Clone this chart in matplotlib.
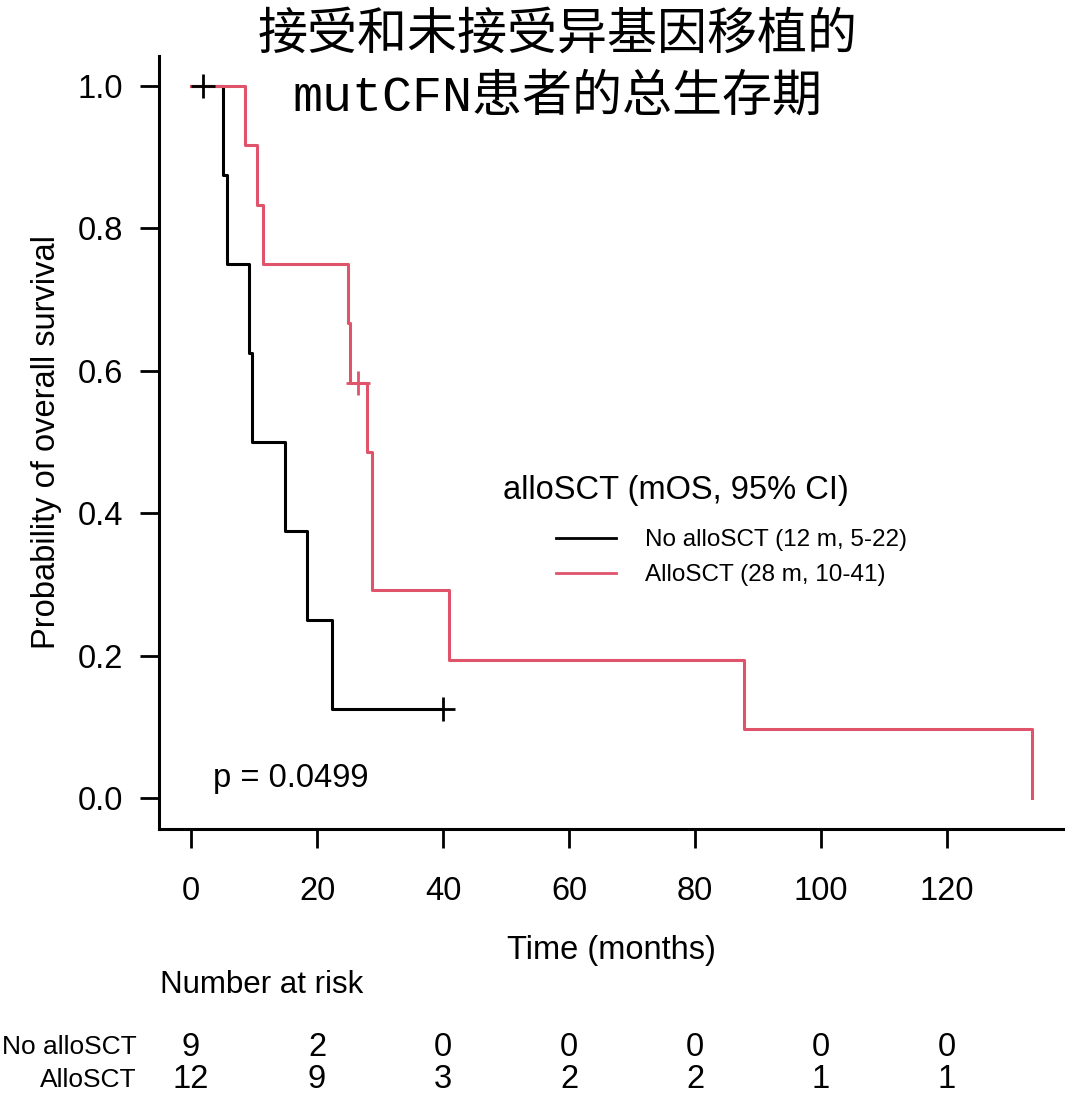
import matplotlib
matplotlib.use("Agg")
import matplotlib.pyplot as plt
from matplotlib.lines import Line2D
from matplotlib.transforms import blended_transform_factory

# ---- data ----
no_times = [0, 5.1, 5.7, 9.2, 9.7, 14.9, 18.4, 22.4, 40.0]
no_surv = [1.0, 0.875, 0.75, 0.625, 0.5, 0.375, 0.25, 0.125, 0.125]
no_cens_t = [1.9, 40.0]
no_cens_s = [1.0, 0.125]

al_times = [0, 8.6, 10.5, 11.4, 24.9, 25.3, 27.9, 28.7, 41.0, 87.8, 133.5]
al_surv = [1.0, 0.917, 0.833, 0.75, 0.667, 0.583, 0.486, 0.292, 0.194, 0.097, 0.0]
al_cens_t = [26.5]
al_cens_s = [0.583]

x_ticks = [0, 20, 40, 60, 80, 100, 120]
y_ticks = [0.0, 0.2, 0.4, 0.6, 0.8, 1.0]
risk_no = [9, 2, 0, 0, 0, 0, 0]
risk_al = [12, 9, 3, 2, 2, 1, 1]
group_labels = ["No alloSCT", "AlloSCT"]
legend_labels = ["No alloSCT (12 m, 5-22)", "AlloSCT (28 m, 10-41)"]
title_text = "接受和未接受异基因移植的\nmutCFN患者的总生存期"
p_text = "p = 0.0499"

BLACK = "#000000"
RED = "#DF536B"
W, H = 1080, 1100

plt.rcParams['font.family'] = ['Liberation Sans', 'DejaVu Sans']
fig = plt.figure(figsize=(W / 100, H / 100), dpi=100)
ax = fig.add_axes([159 / W, 1 - 829 / H, (1063 - 159) / W, (829 - 56) / H])

lw = 2.2
ax.step(no_times, no_surv, where='post', color=BLACK, lw=lw)
ax.step(al_times, al_surv, where='post', color=RED, lw=lw)
ax.plot(no_cens_t, no_cens_s, ls='none', marker='+', ms=17, mew=2.0, color=BLACK)
ax.plot(al_cens_t, al_cens_s, ls='none', marker='+', ms=17, mew=2.0, color=RED)

ax.set_xlim(-5.08, 138.4)
ax.set_ylim(-0.0435, 1.042)
for s in ['top', 'right']:
    ax.spines[s].set_visible(False)
for s in ['left', 'bottom']:
    ax.spines[s].set_linewidth(2.2)
ax.set_xticks(x_ticks)
ax.set_yticks(y_ticks)
ax.set_xticklabels([str(v) for v in x_ticks])
ax.set_yticklabels([f"{v:.1f}" for v in y_ticks])
ax.tick_params(axis='both', direction='out', length=14, width=2.0, labelsize=23.5)
ax.tick_params(axis='x', pad=20)
ax.tick_params(axis='y', pad=12)
ax.set_xlabel("Time (months)", fontsize=23.5, labelpad=20)
ax.set_ylabel("Probability of overall survival", fontsize=23.5, labelpad=11)

ax.text(3.5, 0.028, p_text, fontsize=23.5, ha='left', va='center')

# legend
fig.text(503 / W, 1 - 490 / H, "alloSCT (mOS, 95% CI)", fontsize=23.5, ha='left', va='center')
handles = [Line2D([], [], color=BLACK, lw=2.0), Line2D([], [], color=RED, lw=2.0)]
fig.legend(handles, legend_labels, loc='upper left', bbox_to_anchor=(556 / W, 1 - 529 / H),
           frameon=False, fontsize=17.5, handlelength=2.45, handletextpad=1.2,
           labelspacing=0.55, borderpad=0, borderaxespad=0)

# title
fig.text(558 / W, 1 - 66 / H, title_text, fontsize=36, ha='center', va='center',
         family=['Liberation Mono', 'Noto Sans CJK SC'], linespacing=1.42)

# number at risk table
fig.text(160 / W, 1 - 985 / H, "Number at risk", fontsize=22.5, ha='left', va='center')
btr = blended_transform_factory(ax.transData, fig.transFigure)
for lab, vals, ypx in zip(group_labels, [risk_no, risk_al], [1047, 1080]):
    fig.text(137 / W, 1 - ypx / H, lab, fontsize=19, ha='right', va='center')
    for xv, n in zip(x_ticks, vals):
        ax.text(xv, 1 - ypx / H, str(n), transform=btr, fontsize=23.5, ha='center', va='center',
                clip_on=False)

fig.savefig("out.png", dpi=100)
